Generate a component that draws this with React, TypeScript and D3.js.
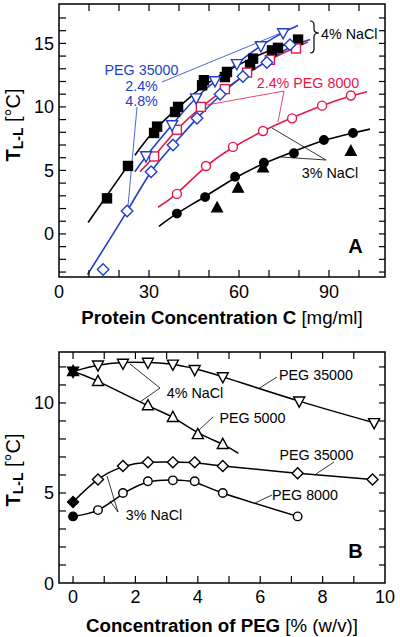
import React from "react";
import * as d3 from "d3";

const FONT = "'Liberation Sans', Arial, Helvetica, sans-serif";
const BLUE = "#1e3fc6";
const RED = "#e3184b";

// ---------- Panel A data (Protein concentration mg/ml, T in °C) ----------
const sqBlack = [[16,2.8],[23,5.35],[31.7,7.95],[32.7,8.45],[38.7,9.6],[39.7,10.0],[47.7,11.7],[48.3,12.1],[55.3,12.35],[56,12.75],[63.7,13.3],[64.7,13.8],[71,14.45],[73,14.65],[79.7,15.3]];
const triBlue = [[29,6.14],[37.7,8.58],[45.7,10.7],[52,12.05],[59.3,13.4],[67.3,14.8],[74.7,15.83]];
const sqRed = [[31.7,6.1],[39.3,8.2],[47.3,10.0],[55.3,11.4],[62.7,12.7],[70.3,13.7],[79,14.6]];
const diaBlue = [[14.7,-2.8],[22.7,1.8],[30.7,4.9],[38,7.0],[46,9.1],[53.7,11.0],[61.3,12.4],[69.3,13.5],[77,14.9]];
const circRed = [[39.3,3.15],[49,5.35],[58,6.85],[68,8.1],[77.7,9.1],[87.7,10.1],[97.3,10.9]];
const circBlack = [[39.3,1.6],[48.7,2.9],[58.7,4.5],[68.3,5.6],[78.3,6.35],[88.3,7.4],[98,7.95]];
const triBlack = [[52.7,2.05],[59.7,3.6],[68,5.2],[97.3,6.5]];

// fitted curves
const fitSqBlackLow = [[9.7,0.9],[23,5.4]];
const fitSqBlackHigh = [[25.3,6.2],[32,8.2],[40,10.0],[48,11.6],[56,12.8],[64,13.8],[72,14.6],[81,15.4]];
const fitTriBlue = [[25.3,4.9],[29,6.1],[37.7,8.6],[45.7,10.7],[52,12.0],[59.3,13.4],[67.3,14.8],[74.7,15.85],[79.7,16.4]];
const fitSqRed = [[27,4.9],[31.7,6.1],[39.3,8.2],[47.3,9.95],[55.3,11.4],[62.7,12.6],[70.3,13.7],[78,14.6],[83,15.1]];
const fitDiaBlue = [[9.5,-3.2],[22.7,1.8],[30.7,4.9],[38,7.0],[46,9.1],[53.7,10.9],[61.3,12.4],[69.3,13.6],[77,14.7],[83.7,15.3]];
const fitCircRed = [[33,2.1],[39.3,3.2],[49,5.3],[58,6.8],[68,8.1],[77.7,9.15],[87.7,10.1],[97.3,10.85],[102.7,11.2]];
const fitCircBlack = [[33.3,0.6],[39.3,1.6],[48.7,2.95],[58.7,4.4],[68.3,5.55],[78.3,6.5],[88.3,7.35],[98,7.95],[103.7,8.25]];

const xTicksA = [0,10,20,30,40,50,60,70,80,90,100];
const xLabelsA = [0,30,60,90];
const yTicksA = [-3,-2,-1,0,1,2,3,4,5,6,7,8,9,10,11,12,13,14,15,16,17];
const yLabelsA = [0,5,10,15];

// ---------- Panel B data (PEG % w/v, T in °C) ----------
const peg35k4 = [[0.8,12.1],[1.6,12.2],[2.4,12.25],[3.2,12.15],[3.9,11.85],[4.8,11.45],[7.25,10.1],[9.65,8.9]];
const peg5k4 = [[0.8,11.2],[2.4,9.85],[3.2,9.2],[4.0,8.25],[4.8,7.7]];
const peg35k3 = [[0.8,5.75],[1.6,6.5],[2.4,6.7],[3.2,6.7],[3.9,6.7],[4.8,6.5],[7.2,6.1],[9.6,5.75]];
const peg8k3 = [[0.8,4.05],[1.6,5.0],[2.4,5.65],[3.2,5.7],[3.9,5.65],[4.8,5.0],[7.2,3.7]];
const zero4 = [[0,11.75]];
const zero35k3 = [[0,4.5]];
const zero8k3 = [[0,3.7]];

const fitPeg35k4 = [[0,11.75],[0.8,12.1],[1.6,12.25],[2.4,12.25],[3.2,12.15],[3.9,11.9],[4.8,11.45],[7.25,10.1],[9.65,8.9]];
const fitPeg5k4 = [[0,11.75],[0.8,11.2],[2.4,9.85],[3.2,9.2],[4.0,8.35],[4.8,7.7],[5.3,7.2]];
const fitPeg35k3 = [[0,4.5],[0.8,5.75],[1.6,6.45],[2.4,6.7],[3.2,6.72],[3.9,6.68],[4.8,6.5],[7.2,6.1],[9.6,5.75]];
const fitPeg8k3 = [[0,3.7],[0.8,4.05],[1.6,4.95],[2.4,5.6],[3.2,5.72],[3.9,5.6],[4.8,5.0],[7.2,3.7]];

const xTicksB = [0,1,2,3,4,5,6,7,8,9,10];
const xLabelsB = [0,2,4,6,8,10];
const yTicksB = [0,1,2,3,4,5,6,7,8,9,10,11,12];
const yLabelsB = [0,5,10];

type Pt = number[];

function Marker({ type, x, y, s, fill, stroke, sw = 1.4 }: any) {
  if (type === "square")
    return <rect x={x - s / 2} y={y - s / 2} width={s} height={s} fill={fill} stroke={stroke} strokeWidth={sw} />;
  if (type === "circle")
    return <circle cx={x} cy={y} r={s / 2} fill={fill} stroke={stroke} strokeWidth={sw} />;
  if (type === "diamond") {
    const h = s / 2;
    return <polygon points={`${x},${y - h} ${x + h},${y} ${x},${y + h} ${x - h},${y}`} fill={fill} stroke={stroke} strokeWidth={sw} />;
  }
  if (type === "triUp") {
    const h = s / 2;
    return <polygon points={`${x},${y - h * 1.1} ${x + h},${y + h * 0.75} ${x - h},${y + h * 0.75}`} fill={fill} stroke={stroke} strokeWidth={sw} />;
  }
  const h = s / 2;
  return <polygon points={`${x},${y + h * 1.1} ${x + h},${y - h * 0.75} ${x - h},${y - h * 0.75}`} fill={fill} stroke={stroke} strokeWidth={sw} />;
}

function Frame({ xs, ys, xTicks, yTicks, xLabels, yLabels, xLabelY }: any) {
  const [x0, x1] = xs.range();
  const [y0, y1] = ys.range(); // y0 bottom, y1 top
  const els: any[] = [];
  xTicks.forEach((t: number, i: number) => {
    const px = xs(t);
    if (px - x0 < 2 || x1 - px < 2) return;
    els.push(<line key={"xb" + i} x1={px} x2={px} y1={y0} y2={y0 - 7} stroke="#000" strokeWidth={1.2} />);
    els.push(<line key={"xt" + i} x1={px} x2={px} y1={y1} y2={y1 + 7} stroke="#000" strokeWidth={1.2} />);
  });
  yTicks.forEach((t: number, i: number) => {
    const py = ys(t);
    if (y0 - py < 2 || py - y1 < 2) return;
    els.push(<line key={"yl" + i} x1={x0} x2={x0 + 7} y1={py} y2={py} stroke="#000" strokeWidth={1.2} />);
    els.push(<line key={"yr" + i} x1={x1} x2={x1 - 6} y1={py} y2={py} stroke="#000" strokeWidth={1.2} />);
  });
  xLabels.forEach((t: number, i: number) => {
    els.push(<text key={"xl" + i} x={xs(t)} y={xLabelY} textAnchor="middle" fontSize={18} fontFamily={FONT}>{t}</text>);
  });
  yLabels.forEach((t: number, i: number) => {
    els.push(<text key={"ylb" + i} x={54} y={ys(t) + 6.5} textAnchor="end" fontSize={18} fontFamily={FONT}>{t}</text>);
  });
  els.push(<rect key="frame" x={x0} y={y1} width={x1 - x0} height={y0 - y1} fill="none" stroke="#000" strokeWidth={1.5} />);
  return <g>{els}</g>;
}

function YLabel({ cy }: any) {
  return (
    <text transform={`translate(20,${cy}) rotate(-90)`} textAnchor="middle" fontFamily={FONT} fontSize={20}>
      <tspan fontWeight="bold">T</tspan>
      <tspan fontWeight="bold" fontSize={14} dy={3}>L-L</tspan>
      <tspan dy={-3}> [°C]</tspan>
    </text>
  );
}

export default function App() {
  const xA = d3.scaleLinear().domain([0, 108.67]).range([59, 385]);
  const yA = d3.scaleLinear().domain([-3.39, 18.1]).range([277, 4]);
  const xB = d3.scaleLinear().domain([-0.45, 10]).range([59, 385]);
  const yB = d3.scaleLinear().domain([0, 12.83]).range([583, 352]);

  const lineA = d3.line<Pt>().x(d => xA(d[0])).y(d => yA(d[1])).curve(d3.curveNatural);
  const lineB = d3.line<Pt>().x(d => xB(d[0])).y(d => yB(d[1])).curve(d3.curveNatural);

  const path = (d: string | null, color: string, w = 1.6, key?: string) => (
    <path key={key} d={d || ""} fill="none" stroke={color} strokeWidth={w} />
  );
  const marks = (data: Pt[], xs: any, ys: any, type: string, s: number, fill: string, stroke: string, k: string) =>
    data.map((d, i) => <Marker key={k + i} type={type} x={xs(d[0])} y={ys(d[1])} s={s} fill={fill} stroke={stroke} />);

  const thin = (x1: number, y1: number, x2: number, y2: number, c: string, k: string) => (
    <line key={k} x1={x1} y1={y1} x2={x2} y2={y2} stroke={c} strokeWidth={0.8} />
  );

  return (
    <svg width={400} height={637} style={{ position: "absolute", left: 0, top: 0, background: "#fff" }}>
      <rect x={0} y={0} width={400} height={637} fill="#fff" />
      {/* ---------------- Panel A ---------------- */}
      <defs>
        <clipPath id="clipA"><rect x={59} y={4} width={326} height={273} /></clipPath>
      </defs>
      <g clipPath="url(#clipA)">
        {path(lineA(fitSqBlackLow as any), "#000", 1.6, "a1")}
        {path(lineA(fitSqBlackHigh as any), "#000", 1.6, "a2")}
        {path(lineA(fitCircBlack as any), "#000", 1.6, "a3")}
        {path(lineA(fitCircRed as any), RED, 1.6, "a4")}
        {path(lineA(fitSqRed as any), RED, 1.6, "a5")}
        {path(lineA(fitDiaBlue as any), BLUE, 1.6, "a6")}
        {path(lineA(fitTriBlue as any), BLUE, 1.6, "a7")}
      </g>
      {/* leader lines A */}
      {thin(162, 82, 281, 33, BLUE, "lb1")}
      {thin(137, 107, 128, 206, BLUE, "lb2")}
      {thin(284, 91, 201, 106, RED, "lr1")}
      {thin(284, 91, 278, 122, RED, "lr2")}
      {thin(326, 160, 272, 128, "#000", "lk1")}
      {thin(326, 160, 281, 157, "#000", "lk2")}

      {marks(sqBlack, xA, yA, "square", 9, "#000", "#000", "sb")}
      {marks(circBlack, xA, yA, "circle", 8.5, "#000", "#000", "cb")}
      {marks(triBlack, xA, yA, "triUp", 10.5, "#000", "#000", "tb")}
      {marks(circRed, xA, yA, "circle", 9, "#fff", RED, "cr")}
      {marks(sqRed, xA, yA, "square", 9, "#fff", RED, "sr")}
      {marks(diaBlue, xA, yA, "diamond", 11.5, "#fff", BLUE, "db")}
      {marks(triBlue, xA, yA, "triDown", 11, "#fff", BLUE, "tbl")}

      <Frame xs={xA} ys={yA} xTicks={xTicksA} yTicks={yTicksA} xLabels={xLabelsA} yLabels={yLabelsA} xLabelY={298} />

      <text x={141.5} y={75} textAnchor="middle" fontSize={14.3} fontFamily={FONT} fill={BLUE}>PEG 35000</text>
      <text x={141.5} y={90.5} textAnchor="middle" fontSize={14.3} fontFamily={FONT} fill={BLUE}>2.4%</text>
      <text x={141.5} y={106} textAnchor="middle" fontSize={14.3} fontFamily={FONT} fill={BLUE}>4.8%</text>
      <text x={308} y={87.5} textAnchor="middle" fontSize={14.3} fontFamily={FONT} fill={RED}>2.4% PEG 8000</text>
      <text x={330} y={177.5} textAnchor="middle" fontSize={14.3} fontFamily={FONT}>3% NaCl</text>
      <path d="M310,21 Q314,21 314,25 L314,29 Q314,33 319,33 Q314,33 314,37 L314,49 Q314,53 310,53" fill="none" stroke="#000" strokeWidth={1.2} />
      <text x={321} y={38.5} fontSize={14.3} fontFamily={FONT}>4% NaCl</text>
      <text x={355.5} y={253} textAnchor="middle" fontSize={20} fontWeight="bold" fontFamily={FONT}>A</text>

      <YLabel cy={125} />
      <text x={222} y={324} textAnchor="middle" fontSize={18.7} fontFamily={FONT}>
        <tspan fontWeight="bold">Protein Concentration C</tspan>
        <tspan> [mg/ml]</tspan>
      </text>

      {/* ---------------- Panel B ---------------- */}
      {path(lineB(fitPeg35k4 as any), "#000", 1.5, "b1")}
      {path(lineB(fitPeg5k4 as any), "#000", 1.5, "b2")}
      {path(lineB(fitPeg35k3 as any), "#000", 1.5, "b3")}
      {path(lineB(fitPeg8k3 as any), "#000", 1.5, "b4")}

      {thin(160, 388, 130, 364, "#000", "m1")}
      {thin(160, 388, 140, 402, "#000", "m2")}
      {thin(277, 377, 258, 389, "#000", "m3")}
      {thin(213, 417, 198, 431, "#000", "m4")}
      {thin(334, 462, 316, 474, "#000", "m5")}
      {thin(272, 495, 255, 503, "#000", "m6")}
      {thin(118, 512, 107, 476, "#000", "m7")}
      {thin(118, 512, 110, 501, "#000", "m8")}

      {marks(peg35k4, xB, yB, "triDown", 11, "#fff", "#000", "p1")}
      {marks(peg5k4, xB, yB, "triUp", 11, "#fff", "#000", "p2")}
      {marks(peg35k3, xB, yB, "diamond", 11, "#fff", "#000", "p3")}
      {marks(peg8k3, xB, yB, "circle", 8.5, "#fff", "#000", "p4")}
      {marks(zero4, xB, yB, "triDown", 11, "#000", "#000", "z1")}
      {marks(zero4, xB, yB, "triUp", 11, "#000", "#000", "z2")}
      {marks(zero35k3, xB, yB, "diamond", 11, "#000", "#000", "z3")}
      {marks(zero8k3, xB, yB, "circle", 8.5, "#000", "#000", "z4")}

      <Frame xs={xB} ys={yB} xTicks={xTicksB} yTicks={yTicksB} xLabels={xLabelsB} yLabels={yLabelsB} xLabelY={603} />

      <text x={195} y={397.5} textAnchor="middle" fontSize={14.3} fontFamily={FONT}>4% NaCl</text>
      <text x={316} y={380} textAnchor="middle" fontSize={14.3} fontFamily={FONT}>PEG 35000</text>
      <text x={252.5} y={423} textAnchor="middle" fontSize={14.3} fontFamily={FONT}>PEG 5000</text>
      <text x={316.5} y={460} textAnchor="middle" fontSize={14.3} fontFamily={FONT}>PEG 35000</text>
      <text x={305} y={499.5} textAnchor="middle" fontSize={14.3} fontFamily={FONT}>PEG 8000</text>
      <text x={154} y={520} textAnchor="middle" fontSize={14.3} fontFamily={FONT}>3% NaCl</text>
      <text x={355.5} y={558} textAnchor="middle" fontSize={20} fontWeight="bold" fontFamily={FONT}>B</text>

      <YLabel cy={470} />
      <text x={222} y={632} textAnchor="middle" fontSize={18.7} fontFamily={FONT}>
        <tspan fontWeight="bold">Concentration of PEG</tspan>
        <tspan> [% (w/v)]</tspan>
      </text>
    </svg>
  );
}
